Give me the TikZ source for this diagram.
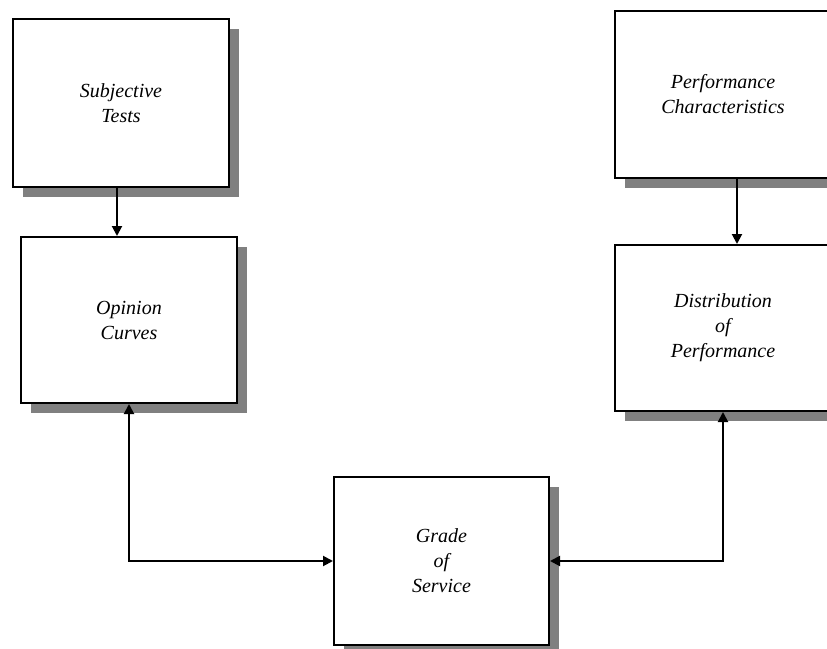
\documentclass[tikz,border=0pt]{standalone}
\usepackage{fontspec}
\setmainfont{Liberation Serif}
\usepackage{tikz}
\usetikzlibrary{shapes,arrows.meta}
\usetikzlibrary{calc}
\usetikzlibrary{positioning}
\usetikzlibrary{shadows}
\tikzstyle{block} = [draw, line width=1pt, fill=white, rectangle, align=center,
    minimum width=108pt, minimum height=84pt, font=\fontsize{10}{12.5}\selectfont\itshape,
    general shadow={fill=gray, shadow xshift=5pt, shadow yshift=-5pt}]
\tikzstyle{link} = [line width=1pt]

\begin{document}
\begin{tikzpicture}[x=0.5pt,y=-0.5pt,>={Triangle[length=5pt,width=5pt]}]
    \useasboundingbox (0,0) rectangle (827,649);
    \clip (0,0) rectangle (827,649);

    \node[block] at (121,103) (tests) {Subjective\\Tests};
    \node[block, minimum height=83pt] at (129,320) (opinion) {Opinion\\Curves};

    \node[block, minimum height=83.5pt] at (723,94.5) (perf) {Performance\\Characteristics};
    \node[block, minimum height=83pt] at (723,328) (distrib) {Distribution\\of\\Performance};

    \node[block, minimum width=107.5pt] at (441.5,561) (grade) {Grade\\of\\Service};

    \draw[link,->] ([xshift=-2pt]tests.south) -- ([xshift=-2pt]tests.south |- opinion.north);
    \draw[link,->] ([xshift=7pt]perf.south) -- ([xshift=7pt]perf.south |- distrib.north);
    \draw[link,<->] (opinion.south) |- (grade.west);
    \draw[link,<->] (distrib.south) |- (grade.east);
\end{tikzpicture}
\end{document}
